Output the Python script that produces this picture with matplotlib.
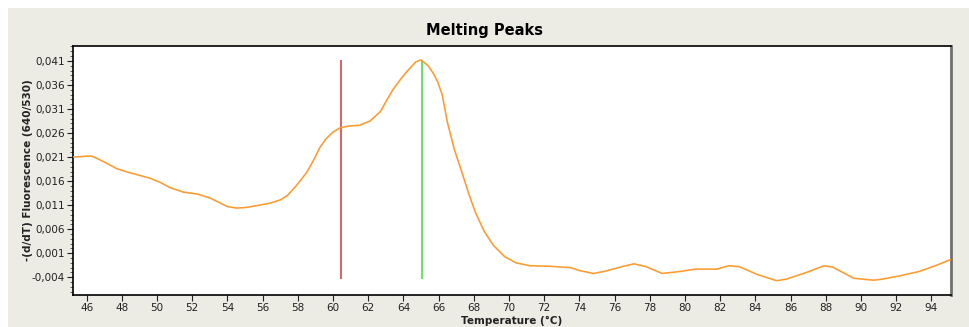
import matplotlib.pyplot as plt
from matplotlib.patches import Rectangle
from matplotlib.ticker import FixedLocator, MultipleLocator, FuncFormatter

# melting peak curve
temp = [45.2, 45.7, 46.0, 46.3, 46.6, 47.2, 47.7, 48.3, 48.8, 49.6, 50.2, 50.7,
        51.5, 52.3, 53.0, 53.5, 54.0, 54.5, 55.0, 55.5, 56.4, 57.0, 57.4, 57.9,
        58.5, 58.9, 59.25, 59.6, 60.0, 60.4, 61.0, 61.5, 62.1, 62.7, 63.0, 63.4, 63.8, 64.2,
        64.7, 65.0, 65.4, 65.7, 65.95, 66.2, 66.5, 66.9, 67.3, 67.7, 68.1, 68.6, 69.1,
        69.75, 70.4, 71.2, 72.3, 73.5, 74.0, 74.8, 75.5, 76.5, 77.1, 77.8, 78.7,
        79.7, 80.6, 81.8, 82.5, 83.1, 84.1, 85.2, 85.75, 86.9, 87.9, 88.4, 89.6,
        90.7, 91.2, 92.2, 93.3, 94.3, 95.1]
fluor = [0.0210, 0.0211, 0.0212, 0.0212, 0.0207, 0.0196, 0.0186, 0.0179, 0.0174, 0.0166, 0.0157, 0.0147,
         0.0137, 0.0133, 0.0125, 0.0116, 0.0107, 0.0104, 0.0105, 0.0108, 0.0114, 0.0121, 0.0130, 0.0150,
         0.0178, 0.0204, 0.0230, 0.0248, 0.0262, 0.0271, 0.0275, 0.0276, 0.0285, 0.0305, 0.0325, 0.0350, 0.0370, 0.0388,
         0.0408, 0.0412, 0.0400, 0.0384, 0.0366, 0.0340, 0.0282, 0.0225, 0.0181, 0.0135, 0.0094, 0.0055, 0.0027,
         0.0003, -0.0010, -0.0016, -0.0017, -0.0020, -0.0026, -0.0032, -0.0027, -0.0017, -0.0012, -0.0018, -0.0032,
         -0.0028, -0.0023, -0.0023, -0.0016, -0.0018, -0.0034, -0.0047, -0.0044, -0.0030, -0.0016, -0.0019, -0.0042,
         -0.0046, -0.0044, -0.0037, -0.0028, -0.0015, -0.0003]

peak_low = 60.44
peak_high = 65.04
yticks = [-0.004, 0.001, 0.006, 0.011, 0.016, 0.021, 0.026, 0.031, 0.036, 0.041]
xticks = list(range(46, 96, 2))

bg = '#ECEBE4'
fig = plt.figure(figsize=(9.69, 3.27), dpi=100, facecolor='white')
fig.patches.append(Rectangle((8 / 969, 0), 1, 1 - 8 / 327, transform=fig.transFigure,
                             facecolor=bg, edgecolor='none', zorder=-10))
ax = fig.add_axes([73 / 969, 32 / 327, 878 / 969, 249 / 327])

ax.plot(temp, fluor, color='#FF9A2E', lw=1.15, zorder=3)
ax.vlines(peak_low, -0.0044, 0.0412, color='#E0505C', lw=1.3, zorder=2)
ax.vlines(peak_high, -0.0044, 0.0412, color='#6EE06E', lw=1.5, zorder=2)

ax.set_xlim(45.22, 95.12)
ax.set_ylim(-0.00768, 0.0441)
ax.xaxis.set_major_locator(FixedLocator(xticks))
ax.yaxis.set_major_locator(FixedLocator(yticks))
ax.yaxis.set_minor_locator(MultipleLocator(0.001))
ax.yaxis.set_major_formatter(FuncFormatter(lambda v, p: f'{v:.3f}'.replace('.', ',')))
ax.tick_params(axis='both', which='major', labelsize=7.5, length=4, width=0.8,
               colors='#222222', pad=2)
ax.tick_params(axis='y', which='minor', length=2.5, width=0.6, colors='#444444')

for s in ['left', 'bottom', 'top']:
    ax.spines[s].set_color('black')
    ax.spines[s].set_linewidth(1.2)
ax.spines['right'].set_color('#707070')
ax.spines['right'].set_linewidth(2)

fig.text(484.5 / 969, 1 - 30 / 327, 'Melting Peaks', ha='center', va='center',
         fontsize=10.5, fontweight='bold')
fig.text(28 / 969, 1 - 170.5 / 327, '-(d/dT) Fluorescence (640/530)', rotation=90,
         ha='center', va='center', fontsize=7.5, fontweight='bold', color='#222222')
fig.text(512 / 969, 1 - 321 / 327, 'Temperature (°C)', ha='center', va='center',
         fontsize=7.5, fontweight='bold', color='#222222')

fig.savefig('out.png', dpi=100, facecolor=fig.get_facecolor())
